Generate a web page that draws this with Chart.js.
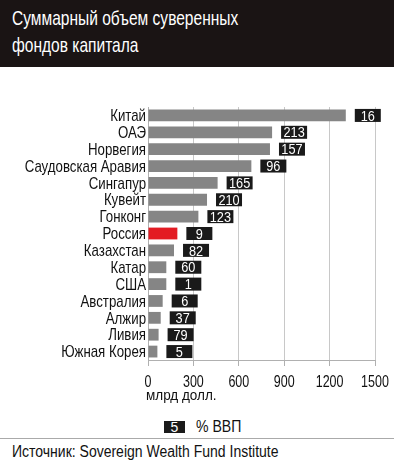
<!DOCTYPE html>
<html>
<head>
<meta charset="utf-8">
<script src="https://cdn.jsdelivr.net/npm/chart.js@4"></script>
<style>
body{margin:0;background:#fff;width:394px;height:464px;overflow:hidden;position:relative;
font-family:"Liberation Sans",Arial,sans-serif;color:#111;}
#head{position:absolute;left:0;top:0;width:394px;height:67px;background:#1a1414;}
#head div{position:absolute;left:12px;top:4px;color:#fff;font-size:21px;line-height:27px;
white-space:nowrap;transform:scaleX(0.74);transform-origin:0 0;}
#wrap{position:absolute;left:0;top:67px;width:394px;height:345px;}
#box{position:absolute;left:164px;top:421px;width:21px;height:12px;background:#1a1a1a;color:#fff;
font-size:14px;line-height:13px;text-align:center;}
#legtxt{position:absolute;left:196px;top:419px;font-size:16px;line-height:16px;white-space:nowrap;
transform:scaleX(0.88);transform-origin:0 0;}
#line{position:absolute;left:0;top:438px;width:394px;height:1px;background:#aaa;}
#src{position:absolute;left:12px;top:443px;font-size:16px;white-space:nowrap;
transform:scaleX(0.875);transform-origin:0 0;}
</style>
</head>
<body>
<div id="head"><div>Суммарный объем суверенных<br>фондов капитала</div></div>
<div id="wrap"><canvas id="c"></canvas></div>
<div id="box">5</div>
<div id="legtxt">% ВВП</div>
<div id="line"></div>
<div id="src">Источник: Sovereign Wealth Fund Institute</div>
<script>

let countries = ["Китай","ОАЭ","Норвегия","Саудовская Аравия","Сингапур","Кувейт","Гонконг","Россия",
"Казахстан","Катар","США","Австралия","Алжир","Ливия","Южная Корея"]
let funds = [1307,820,806,683,460,390,333,194,172,121,121,97,84,70,62]
let gdp = [16,213,157,96,165,210,123,9,82,60,1,6,37,79,5]
let xTicks = [0,300,600,900,1200,1500]
let axisTitle = "млрд долл."

let font = "'Liberation Sans',Arial,sans-serif"

let colors = countries.map(c => c=="Россия" ? "#e31b23" : "#858585")

// condensed look: draw text squeezed horizontally
function squeezed(ctx, text, x, y, align, sx){
ctx.save()
ctx.translate(x,y)
ctx.scale(sx,1)
ctx.textAlign = align
ctx.fillText(text,0,0)
ctx.restore()
}

let labelsPlugin = {
id:"labelsPlugin",
afterDraw(chart){
let ctx = chart.ctx
let xs = chart.scales.x
let ys = chart.scales.y
let bars = chart.getDatasetMeta(0).data
ctx.save()

// category labels
ctx.fillStyle = "#111"
ctx.font = "17px " + font
ctx.textBaseline = "middle"
countries.forEach((c,i)=>{
squeezed(ctx, c, ys.right-2, ys.getPixelForTick(i)+1, "right", 0.78)
})

// x tick labels
ctx.font = "16px " + font
ctx.textBaseline = "alphabetic"
xTicks.forEach(v=>{
squeezed(ctx, String(v), xs.getPixelForValue(v), xs.top+27, "center", 0.78)
})

// axis title
ctx.font = "15px " + font
squeezed(ctx, axisTitle, chart.chartArea.left-2, xs.top+40, "left", 0.9)

// % GDP boxes
ctx.font = "15px " + font
ctx.textBaseline = "middle"
bars.forEach((b,i)=>{
let x = b.x + 9
ctx.fillStyle = "#1a1a1a"
ctx.fillRect(x, b.y-6.5, 26, 13)
ctx.fillStyle = "#fff"
squeezed(ctx, String(gdp[i]), x+13, b.y+1, "center", 0.85)
})
ctx.restore()
}
}

new Chart(document.getElementById("c"),{
type:"bar",
data:{
labels:countries,
datasets:[{
data:funds,
backgroundColor:colors,
barPercentage:0.7,
categoryPercentage:1
}]
},
options:{
indexAxis:"y",
responsive:true,
maintainAspectRatio:false,
animation:false,
layout:{padding:{top:40,right:19,left:0,bottom:0}},
plugins:{legend:{display:false},tooltip:{enabled:false}},
scales:{
x:{
min:0,max:1500,
afterBuildTicks(s){ s.ticks = xTicks.map(v=>({value:v})) },
grid:{color:"#c8c8c8",lineWidth:1,tickLength:6,drawTicks:true,tickColor:"#b0b0b0"},
border:{color:"#b0b0b0"},
ticks:{display:false},
afterFit(s){ s.height = 52 }
},
y:{
grid:{display:false},
border:{color:"#b0b0b0"},
ticks:{display:false},
afterFit(s){ s.width = 148 }
}
}
},
plugins:[labelsPlugin]
})

</script>
</body>
</html>
